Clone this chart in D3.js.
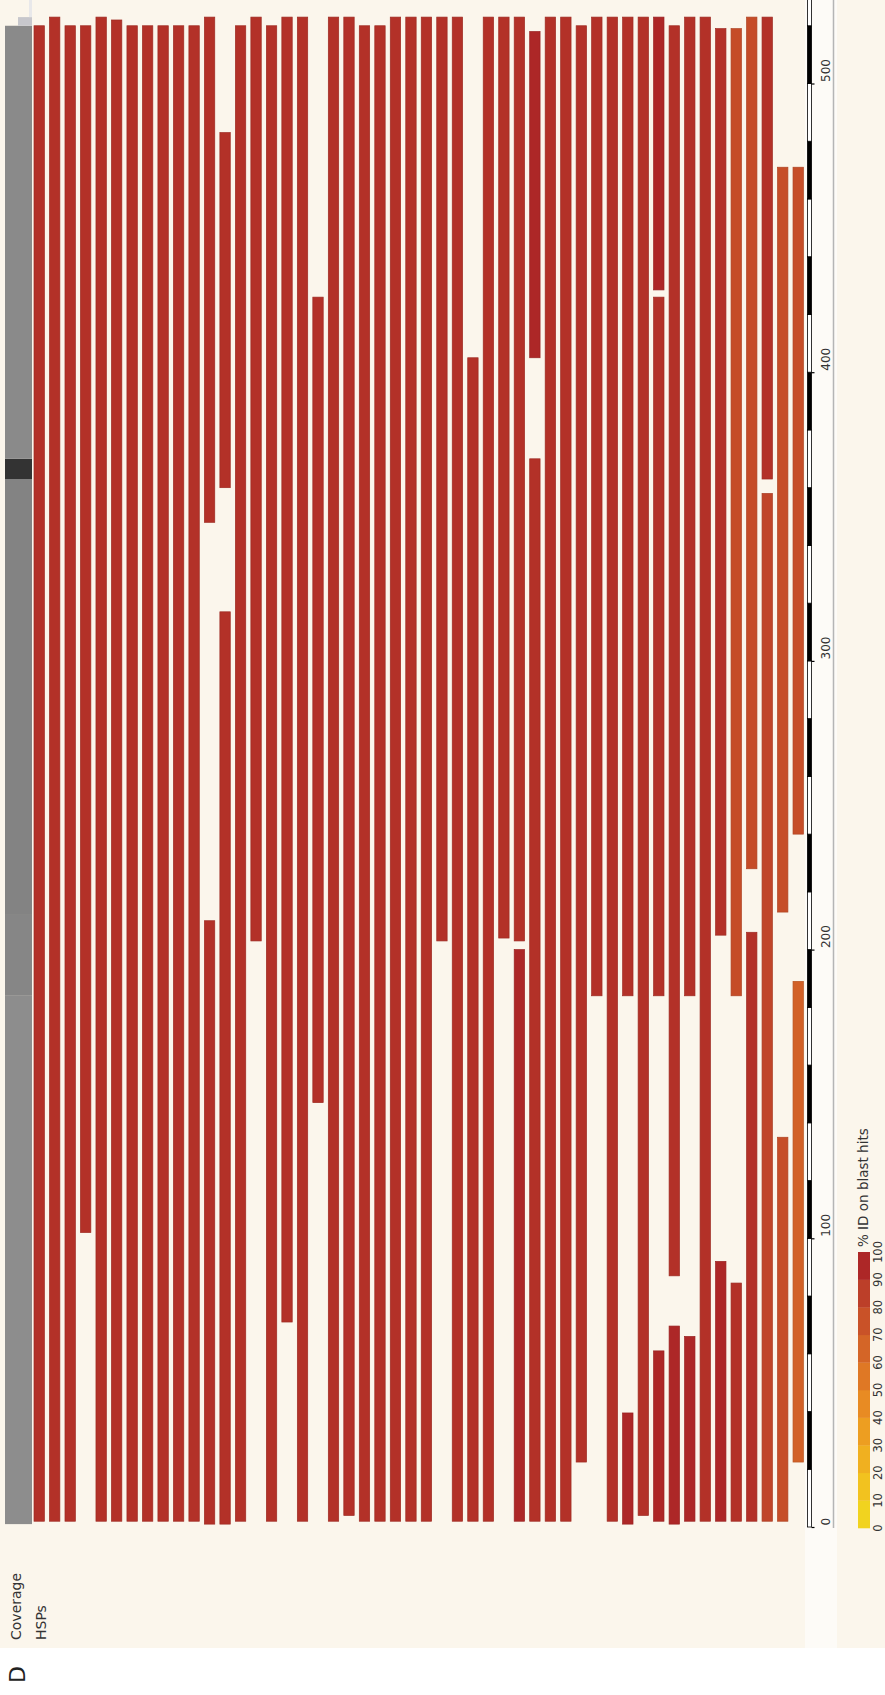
<!DOCTYPE html>
<html>
<head>
<meta charset="utf-8">
<script src="https://cdn.jsdelivr.net/npm/d3@7"></script>
<style>
  html, body { margin: 0; padding: 0; background: #ffffff; }
  svg { display: block; }
  text { font-family: "DejaVu Sans", Verdana, sans-serif; }
</style>
</head>
<body>
<svg id="chart" width="885" height="1695"></svg>
<script>
// ---- HSP rows: one entry per high-scoring segment pair ----
const hspRow = [
  1, 2, 3, 4, 5, 6, 7, 8, 9, 10,
  11, 12, 12, 13, 13, 14, 15, 16, 17, 18,
  19, 20, 21, 22, 23, 24, 25, 26, 27, 28,
  29, 30, 31, 32, 32, 33, 33, 34, 35, 36,
  37, 38, 39, 39, 40, 41, 41, 41, 42, 42,
  43, 43, 44, 45, 45, 46, 46, 47, 47, 48,
  48, 49, 49, 50, 50
];
const hspStart = [
  2, 2, 2, 102, 2, 2, 2, 2, 2, 2,
  2, 348, 1, 360, 1, 2, 203, 2, 71, 2,
  147, 2, 4, 2, 2, 2, 2, 2, 203, 2,
  2, 2, 204, 203, 2, 405, 2, 2, 2, 22.5,
  184, 2, 184, 1, 4, 428.5, 184, 2, 87, 1,
  184, 2, 2, 205, 2, 184, 2, 228, 2, 363,
  2, 213, 2, 240, 22.5
];
const hspEnd = [
  520, 523, 520, 520, 523, 522, 520, 520, 520, 520,
  520, 523, 210, 483, 317, 520, 523, 520, 523, 523,
  426, 523, 523, 520, 520, 523, 523, 523, 523, 523,
  405, 523, 523, 523, 200, 518, 370, 523, 523, 520,
  523, 523, 523, 39.5, 523, 523, 426, 61, 520, 69.6,
  523, 66, 523, 519, 92, 519, 84.5, 523, 206, 523,
  358, 471, 135, 471, 189
];
// percent identity of each HSP
const hspIdentity = [
  91, 91, 91, 91, 91, 91, 91, 91, 91, 91,
  91, 91, 91, 91, 91, 91, 91, 91, 91, 91,
  91, 91, 91, 91, 91, 91, 91, 91, 91, 91,
  91, 91, 91, 91, 99, 99, 91, 91, 91, 91,
  91, 91, 91, 99, 91, 99, 91, 99, 91, 99,
  91, 99, 91, 91, 99, 78, 91, 78, 91, 91,
  82, 77, 77, 77, 67
];

// ---- coverage track ----
const covStart = [1, 184, 212, 363, 370, 520, 523];
const covEnd   = [184, 212, 363, 370, 520, 523, 529];
const covDepth = [44, 46, 47, 50, 45, 28, 3];

// ---- scale and legend labels ----
const axisTicks = [0, 100, 200, 300, 400, 500];
const legendTicks = [0, 10, 20, 30, 40, 50, 60, 70, 80, 90, 100];
const legendColors = [
  "#f1d31f", "#f2c21f", "#f0b020", "#ed9e21", "#e88b23",
  "#df7825", "#d46527", "#c95228", "#bc3f29", "#ad2727"
];

const svg = d3.select("#chart");

// backgrounds
svg.append("rect").attr("x", 0).attr("y", 0).attr("width", 885).attr("height", 1695).attr("fill", "#ffffff");
svg.append("rect").attr("x", 0).attr("y", 0).attr("width", 885).attr("height", 1648).attr("fill", "#fbf6ec");
svg.append("rect").attr("x", 805).attr("y", 0).attr("width", 32).attr("height", 1648).attr("fill", "#fdfbf7");

// scales
const y = d3.scaleLinear().domain([0, 500]).range([1527, 83.5]);
const rows = d3.range(1, 51);
const x = d3.scaleBand().domain(rows).range([34, 803.4]).paddingInner(0.33).paddingOuter(0);
const color = d3.scaleLinear()
  .domain(legendColors.map((c, i) => i * 10 + 5))
  .range(legendColors)
  .clamp(true);

// coverage track
const covShade = d3.scaleLinear()
  .domain([0, 28, 44, 47, 49, 50])
  .range(["#ececee", "#c7c7cc", "#8d8d8d", "#838383", "#7a7a7a", "#333333"]);
const covData = covStart.map((s, i) => ({ s, e: covEnd[i], d: covDepth[i] }));
svg.append("g").selectAll("rect").data(covData).join("rect")
  .attr("x", d => d.d < 10 ? 29 : d.d < 30 ? 18 : 5)
  .attr("width", d => d.d < 10 ? 3 : d.d < 30 ? 14 : 27)
  .attr("y", d => y(d.e))
  .attr("height", d => y(d.s) - y(d.e))
  .attr("fill", d => covShade(d.d));

// HSP bars
const hsps = hspRow.map((r, i) => ({ r, s: hspStart[i], e: hspEnd[i], id: hspIdentity[i] }));
svg.append("g").selectAll("rect").data(hsps).join("rect")
  .attr("x", d => x(d.r))
  .attr("width", x.bandwidth())
  .attr("y", d => y(d.e))
  .attr("height", d => y(d.s) - y(d.e))
  .attr("fill", d => color(d.id))
  .attr("stroke", d => d3.color(color(d.id)).darker(0.35))
  .attr("stroke-width", 0.7);

// sequence ruler: alternating 20-residue blocks
const blocks = d3.range(0, 540, 20);
svg.append("g").selectAll("rect").data(blocks).join("rect")
  .attr("x", 807.5)
  .attr("width", 4)
  .attr("y", d => y(d + 20))
  .attr("height", d => y(d) - y(d + 20))
  .attr("fill", d => (d / 20) % 2 === 1 ? "#000" : "#fff")
  .attr("stroke", "#000")
  .attr("stroke-width", 0.8);

const axisG = svg.append("g")
  .attr("transform", "translate(811.5,0)")
  .call(d3.axisRight(y).tickValues(axisTicks).tickSize(3).tickFormat(d3.format("d")));
axisG.select(".domain").remove();
axisG.selectAll(".tick line").attr("stroke", "#000").attr("stroke-width", 1.2);
axisG.selectAll(".tick text")
  .attr("x", null).attr("dy", null)
  .attr("transform", "translate(18.5,-2) rotate(-90)")
  .attr("text-anchor", "start")
  .attr("fill", "#333")
  .attr("font-size", 12)
  .attr("font-family", "DejaVu Sans, sans-serif");

// ruler guide line
svg.append("line")
  .attr("x1", 833.5).attr("x2", 833.5)
  .attr("y1", 0).attr("y2", 1528)
  .attr("stroke", "#b5b5b5").attr("stroke-width", 1.5);

// identity legend
const ly = d3.scaleLinear().domain([0, 100]).range([1528, 1252]);
svg.append("g").selectAll("rect").data(legendColors).join("rect")
  .attr("x", 858)
  .attr("width", 12)
  .attr("y", (c, i) => ly((i + 1) * 10))
  .attr("height", (c, i) => ly(i * 10) - ly((i + 1) * 10) + 0.3)
  .attr("fill", c => c);

svg.append("g").selectAll("text").data(legendTicks).join("text")
  .attr("transform", d => `translate(882,${ly(d)}) rotate(-90)`)
  .attr("text-anchor", "middle")
  .attr("font-size", 11.5)
  .attr("fill", "#333")
  .text(d => d);

svg.append("text")
  .attr("transform", "translate(868,1247) rotate(-90)")
  .attr("text-anchor", "start")
  .attr("font-size", 13.5)
  .attr("fill", "#333")
  .text("% ID on blast hits");

// track names
svg.append("text")
  .attr("transform", "translate(21,1640) rotate(-90)")
  .attr("font-size", 14)
  .attr("fill", "#333")
  .text("Coverage");
svg.append("text")
  .attr("transform", "translate(46,1640) rotate(-90)")
  .attr("font-size", 14)
  .attr("fill", "#333")
  .text("HSPs");

// panel letter
svg.append("text")
  .attr("transform", "translate(25,1683) rotate(-90)")
  .attr("font-size", 22)
  .attr("fill", "#222")
  .text("D");
</script>
</body>
</html>
